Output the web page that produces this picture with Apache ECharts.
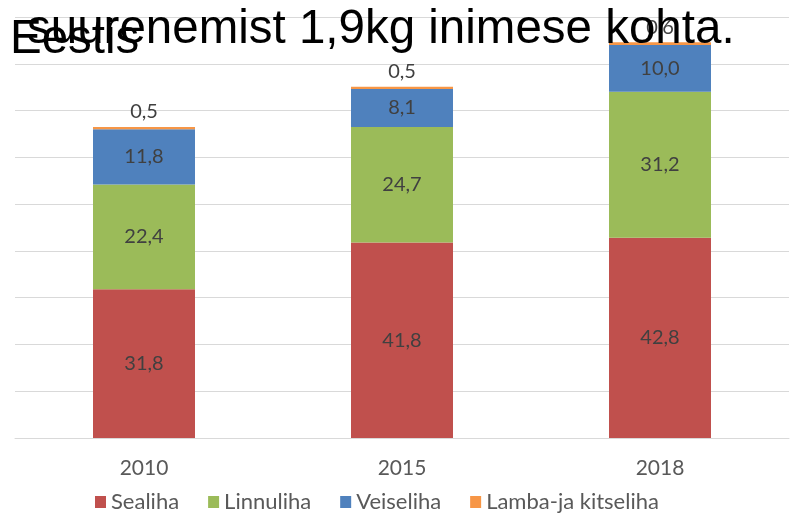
<!DOCTYPE html>
<html>
<head>
<meta charset="utf-8">
<script src="https://cdn.jsdelivr.net/npm/echarts@6/dist/echarts.min.js"></script>
<style>
  html, body { margin: 0; padding: 0; background: #fff; }
  #chart { width: 793px; height: 513px; }
</style>
</head>
<body>
<div id="chart"></div>
<script>
const years = ['2010', '2015', '2018']
const sealiha = [31.8, 41.8, 42.8]
const linnuliha = [22.4, 24.7, 31.2]
const veiseliha = [11.8, 8.1, 10.0]
const lammas = [0.5, 0.5, 0.6]

const fmt = p => p.value.toFixed(1).replace('.', ',')
const labelFont = { fontFamily: 'Lato', fontSize: 20, color: '#404040' }

function bar(name, data, color, pos) {
  return {
    name,
    type: 'bar',
    stack: 'liha',
    barWidth: 102,
    data,
    itemStyle: { color },
    label: Object.assign({ show: true, position: pos, formatter: fmt }, labelFont)
  }
}

const chart = echarts.init(document.getElementById('chart'))
chart.setOption({
  animation: false,
  title: [
    {
      text: 'suurenemist 1,9kg inimese kohta.',
      left: 27, top: 6, padding: 0,
      textStyle: { fontFamily: 'Liberation Sans', fontSize: 47.5, fontWeight: 'normal', color: '#000' }
    },
    {
      text: 'Eestis',
      left: 10, top: 16, padding: 0,
      textStyle: { fontFamily: 'Liberation Sans', fontSize: 47.5, fontWeight: 'normal', color: '#000' }
    }
  ],
  grid: { left: 15, right: 4, top: 17, bottom: 75 },
  legend: {
    left: 95, top: 491, padding: 0,
    icon: 'rect', itemWidth: 11, itemHeight: 12, itemGap: 29,
    textStyle: { fontFamily: 'Lato', fontSize: 22, color: '#595959' },
    data: ['Sealiha', 'Linnuliha', 'Veiseliha', 'Lamba-ja kitseliha']
  },
  xAxis: {
    type: 'category',
    data: years,
    axisLine: { lineStyle: { color: '#d9d9d9' } },
    axisTick: { show: false },
    axisLabel: { margin: 20, fontFamily: 'Lato', fontSize: 21, color: '#595959' }
  },
  yAxis: {
    type: 'value',
    min: 0, max: 90, interval: 10,
    axisLabel: { show: false },
    axisLine: { show: false },
    axisTick: { show: false },
    splitLine: { lineStyle: { color: '#d9d9d9' } }
  },
  series: [
    bar('Sealiha', sealiha, '#c0504d', 'inside'),
    bar('Linnuliha', linnuliha, '#9bbb59', 'inside'),
    bar('Veiseliha', veiseliha, '#4f81bd', 'inside'),
    bar('Lamba-ja kitseliha', lammas, '#f79646', 'top')
  ]
})
</script>
</body>
</html>
